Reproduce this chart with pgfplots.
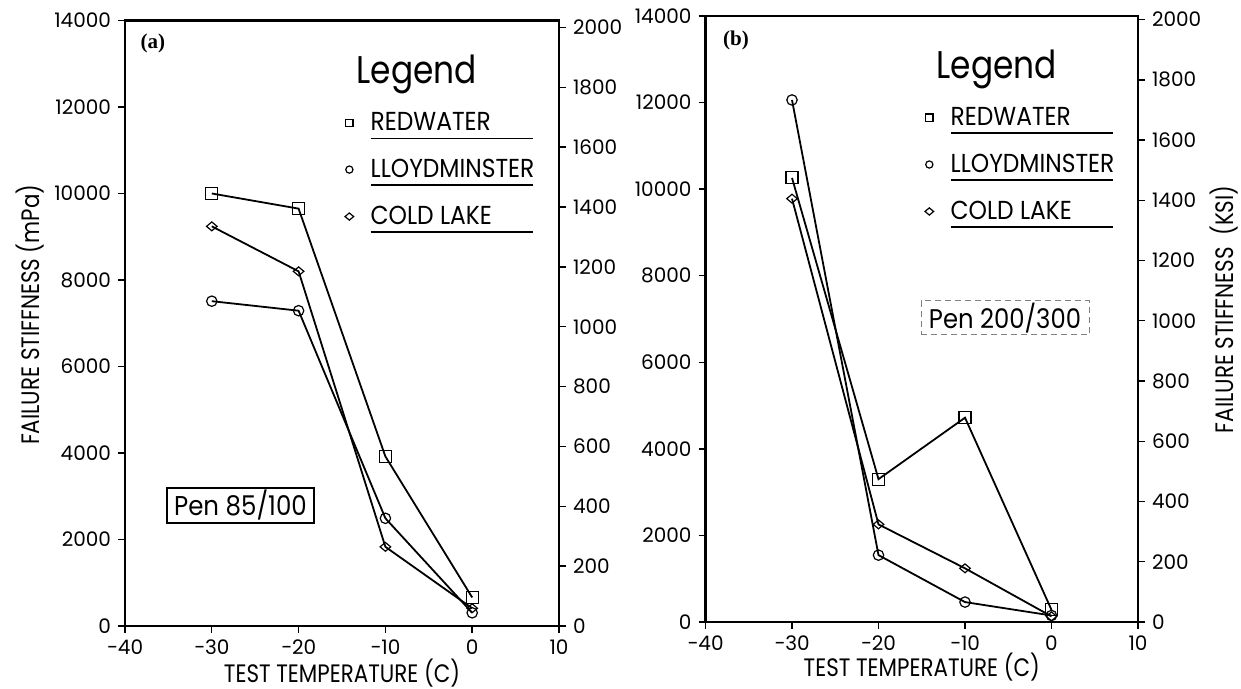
\documentclass[border=0pt]{standalone}
\usepackage{fontspec}
\setmainfont{Poppins}
\newfontfamily\lab{Poppins}[FakeStretch=0.85]
\newfontfamily\labl{Poppins}[FakeStretch=0.9]
\newfontfamily\serifb{Liberation Serif}
\usepackage{pgfplots}
\usepackage{pgfplotstable}
\pgfplotsset{compat=1.18}

% panel (a): Pen 85/100
\pgfplotstableread{
T    red   lloyd  cold
-30  10000 7510   9240
-20  9650  7290   8200
-10  3920  2490   1830
0    660   305    410
}\dataA
% panel (b): Pen 200/300
\pgfplotstableread{
T    red   lloyd  cold
-30  10260 12060  9780
-20  3300  1545   2255
-10  4720  460    1240
0    280   150    130
}\dataB

\newcommand{\ent}[1]{\rlap{\raisebox{-4.5pt}{\rule{81pt}{0.9pt}}}#1}
\newcommand{\ttl}{\hspace*{-7pt}\lab\fontsize{19.3}{19.3}\selectfont Legend}

\pgfplotsset{
  common/.style={
    scale only axis,
    xmin=-40, xmax=10, ymin=0, ymax=14000,
    xtick={-40,-30,...,10},
    xticklabels={−40,−30,−20,−10,0,10},
    ytick={0,2000,...,14000},
    scaled y ticks=false,
    tick pos=left, tick align=outside, major tick length=3.5pt,
    axis line style={line width=1.3pt},
    every tick/.style={line width=0.7pt, black},
    ticklabel style={font=\fontsize{10}{10}\selectfont},
    /pgf/number format/assume math mode=true,
    /pgf/number format/1000 sep={},
    xlabel={TEST TEMPERATURE (C)},
    label style={font=\lab\fontsize{12.6}{13}\selectfont},
    legend cell align=left,
    legend image code/.code={\draw[##1, mark size=1.8pt, line width=0.6pt] plot coordinates {(0pt,0pt)};},
    legend style={draw=none, fill=none, inner sep=0pt, outer sep=0pt,
      column sep=8.5pt, row sep=12.8pt, nodes={inner sep=0pt},
      font=\labl\fontsize{13}{13}\selectfont},
  },
  rightax/.style={
    scale only axis,
    xmin=-40, xmax=10, ymin=0,
    axis x line=none, axis y line*=right,
    ytick={0,200,...,2000},
    scaled y ticks=false,
    tick align=outside, major tick length=3.5pt,
    axis line style={line width=1.3pt},
    every tick/.style={line width=0.7pt, black},
    ticklabel style={font=\fontsize{10}{10}\selectfont},
    /pgf/number format/assume math mode=true,
    /pgf/number format/1000 sep={},
  },
  ser/.style={black, line width=0.9pt, mark options={solid, fill=none, line width=0.6pt}},
  dia/.style={ser, mark=diamond, mark size=2.2pt, mark options={solid, fill=none, line width=0.6pt, xscale=1.6}},
}

\begin{document}
\begin{tikzpicture}
\useasboundingbox (0,0) rectangle (620.5pt,344.5pt);

% ---------- panel (a) ----------
\begin{axis}[common,
  at={(62.5pt,31.5pt)}, anchor=south west,
  width=217pt, height=302.75pt,
  xlabel style={at={(rel axis cs:0.5,-0.0935)}, anchor=base},
  ylabel={FAILURE STIFFNESS (mPa)},
  ylabel style={at={(rel axis cs:-0.198,0.514)}, anchor=base},
  legend style={at={(rel axis cs:0.507,0.943)}, anchor=north west},
]
\addlegendimage{empty legend}\addlegendentry{\ttl}
\addplot[ser, mark=square, mark size=3pt] table[x=T, y=red] {\dataA};
\addlegendentry{\ent{REDWATER}}
\addplot[ser, mark=o, mark size=2.6pt] table[x=T, y=lloyd] {\dataA};
\addlegendentry{\ent{LLOYDMINSTER}}
\addplot[dia] table[x=T, y=cold] {\dataA};
\addlegendentry{\ent{COLD LAKE}}
\node[font={\serifb\bfseries\fontsize{10.5}{11}\selectfont}] at (rel axis cs:0.0645,0.962) {(a)};
\node[draw=black, line width=0.7pt, minimum width=73.5pt, minimum height=17.5pt, inner sep=0pt,
      font=\labl\fontsize{13.6}{14}\selectfont] at (rel axis cs:0.266,0.199) {Pen 85/100};
\end{axis}
\begin{axis}[rightax,
  at={(62.5pt,31.5pt)}, anchor=south west,
  width=217pt, height=302.75pt, ymax=2023]
\end{axis}

% ---------- panel (b) ----------
\begin{axis}[common,
  at={(352.75pt,33.5pt)}, anchor=south west,
  width=216.25pt, height=303pt,
  xlabel style={at={(rel axis cs:0.5,-0.0895)}, anchor=base},
  legend style={at={(rel axis cs:0.5075,0.944)}, anchor=north west},
]
\addlegendimage{empty legend}\addlegendentry{\ttl}
\addplot[ser, mark=square, mark size=3pt] table[x=T, y=red] {\dataB};
\addlegendentry{\ent{REDWATER}}
\addplot[ser, mark=o, mark size=2.6pt] table[x=T, y=lloyd] {\dataB};
\addlegendentry{\ent{LLOYDMINSTER}}
\addplot[dia] table[x=T, y=cold] {\dataB};
\addlegendentry{\ent{COLD LAKE}}
\node[font={\serifb\bfseries\fontsize{10.5}{11}\selectfont}] at (rel axis cs:0.0705,0.96) {(b)};
\node[draw=gray, densely dashed, line width=0.5pt, minimum width=84pt, minimum height=17pt, inner sep=0pt,
      font=\labl\fontsize{13.5}{14}\selectfont] at (rel axis cs:0.6925,0.5017) {Pen 200/300};
\end{axis}
\begin{axis}[rightax,
  at={(352.75pt,33.5pt)}, anchor=south west,
  width=216.25pt, height=303pt, ymax=2012,
  ylabel={FAILURE STIFFNESS\ \ (KSI)},
  ylabel style={at={(rel axis cs:1.22,0.516)}, anchor=base, rotate=0,
    font=\lab\fontsize{12.6}{13}\selectfont}]
\end{axis}
\end{tikzpicture}
\end{document}
